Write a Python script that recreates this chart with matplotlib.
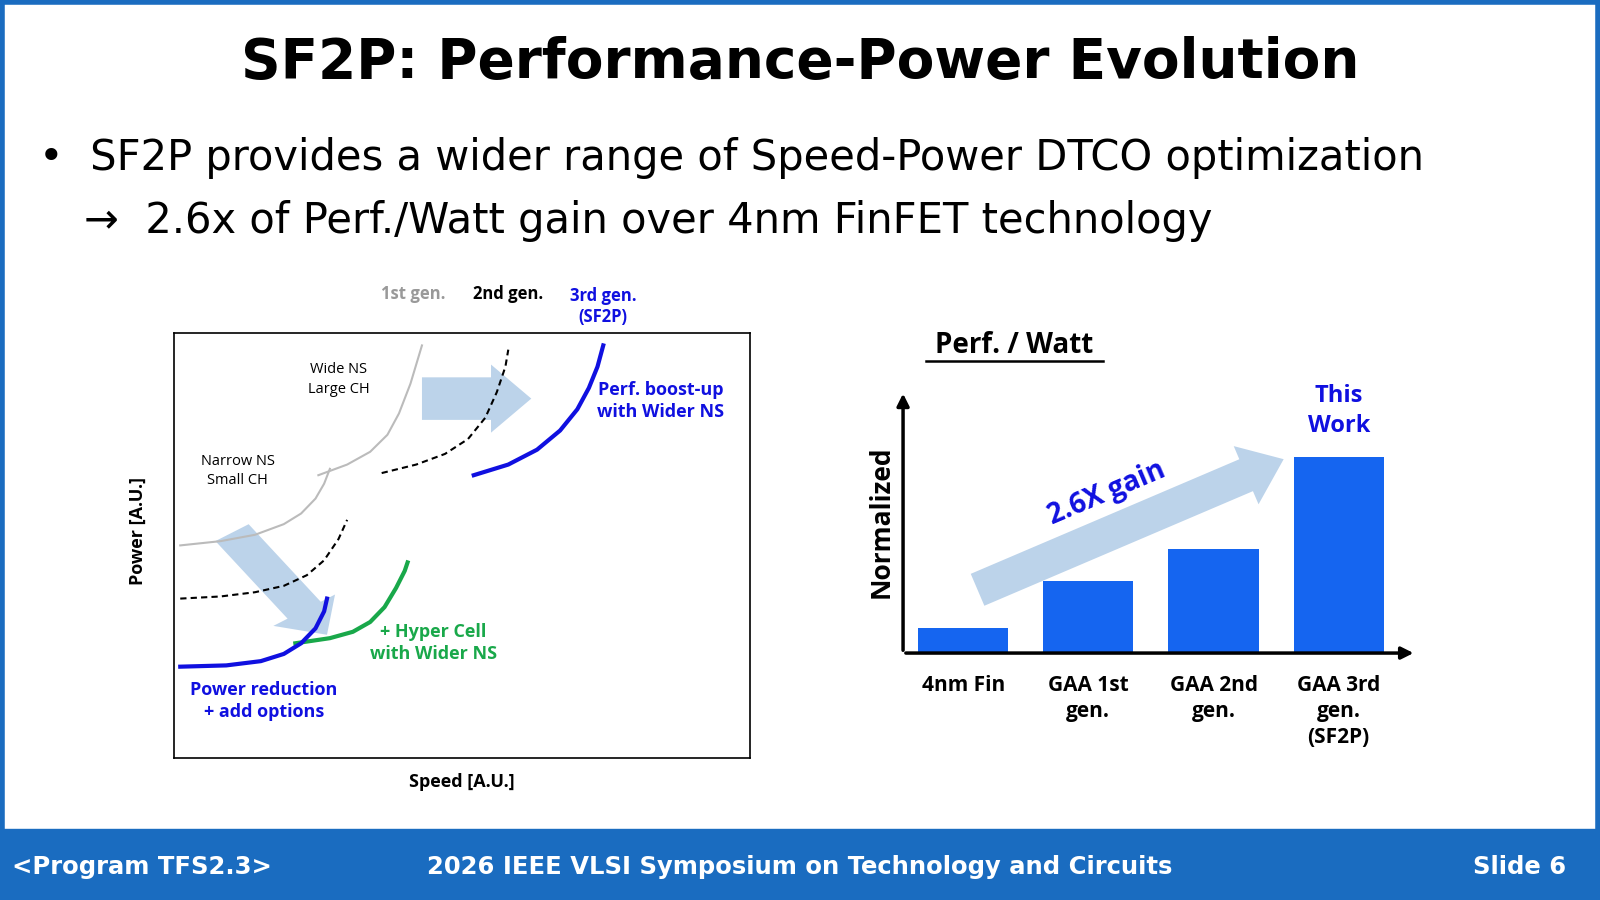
import numpy as np
import matplotlib
matplotlib.use("Agg")
import matplotlib.pyplot as plt
from matplotlib.patches import Rectangle, FancyArrow

W, H = 1568, 882
BLUE = "#1a6cc0"
LIGHT = "#bcd3ea"
MARK = "#1010e0"
GREEN = "#19a84a"

# bar chart data
bar_labels = ["4nm Fin", "GAA 1st\ngen.", "GAA 2nd\ngen.", "GAA 3rd\ngen.\n(SF2P)"]
bar_values = [1.0, 2.84, 4.08, 7.72]

# schematic curves (x, y in axes fraction of the left panel)
gray_small = ([0.01, 0.08, 0.14, 0.19, 0.22, 0.245, 0.26, 0.27],
              [0.50, 0.51, 0.525, 0.55, 0.575, 0.61, 0.645, 0.68])
gray_large = ([0.25, 0.30, 0.34, 0.37, 0.39, 0.41, 0.43],
              [0.665, 0.69, 0.72, 0.76, 0.81, 0.88, 0.97])
dash_2nd_low = ([0.01, 0.08, 0.14, 0.19, 0.23, 0.26, 0.285, 0.30],
                [0.375, 0.38, 0.39, 0.405, 0.43, 0.465, 0.515, 0.56])
dash_2nd_high = ([0.36, 0.42, 0.47, 0.51, 0.54, 0.56, 0.575, 0.58],
                 [0.67, 0.69, 0.715, 0.75, 0.80, 0.86, 0.92, 0.96])
blue_low = ([0.01, 0.09, 0.15, 0.19, 0.22, 0.245, 0.26, 0.265],
            [0.215, 0.218, 0.228, 0.245, 0.27, 0.305, 0.345, 0.375])
green_hyper = ([0.21, 0.27, 0.31, 0.34, 0.365, 0.385, 0.40, 0.405],
               [0.27, 0.282, 0.297, 0.32, 0.355, 0.40, 0.44, 0.46])
blue_high = ([0.52, 0.58, 0.63, 0.67, 0.70, 0.72, 0.735, 0.745],
             [0.665, 0.69, 0.725, 0.77, 0.82, 0.87, 0.92, 0.97])


def fx(px):
    return px / W


def fy(py):
    return 1 - py / H


fig = plt.figure(figsize=(16, 9), dpi=100)
bg = fig.add_axes([0, 0, 1, 1])
bg.set_xlim(0, W)
bg.set_ylim(H, 0)
bg.axis("off")

# frame and footer
bg.add_patch(Rectangle((2, 2), W - 4, H - 4, fill=False, ec=BLUE, lw=4))
bg.add_patch(Rectangle((0, 812), W, 70, color=BLUE))
bg.text(12, 850, "<Program TFS2.3>", color="white", fontsize=17.5, fontweight="bold", va="center")
bg.text(784, 850, "2026 IEEE VLSI Symposium on Technology and Circuits", color="white",
        fontsize=17.5, fontweight="bold", va="center", ha="center")
bg.text(1535, 850, "Slide 6", color="white", fontsize=17.5, fontweight="bold", va="center", ha="right")

bg.text(784, 62, "SF2P: Performance-Power Evolution", fontsize=39.5, fontweight="bold",
        ha="center", va="center")
bg.text(38, 155, "•  SF2P provides a wider range of Speed-Power DTCO optimization",
        fontsize=30, va="center")
bg.text(82, 217, "→  2.6x of Perf./Watt gain over 4nm FinFET technology", fontsize=30, va="center")

lab = dict(family="Open Sans", fontweight="bold")
bg.text(405, 288, "1st gen.", color="#999999", fontsize=12, ha="center", va="center", **lab)
bg.text(498, 288, "2nd gen.", color="black", fontsize=12, ha="center", va="center", **lab)
bg.text(591, 300, "3rd gen.\n(SF2P)", color=MARK, fontsize=12, ha="center", va="center",
        linespacing=1.2, **lab)
bg.text(453, 766, "Speed [A.U.]", fontsize=13, ha="center", va="center", **lab)
bg.text(135, 520, "Power [A.U.]", fontsize=13, ha="center", va="center", rotation=90, **lab)

# left schematic
ax = fig.add_axes([fx(171), fy(743), (735 - 171) / W, (743 - 326) / H])
ax.set_xlim(0, 1)
ax.set_ylim(0, 1)
ax.set_xticks([])
ax.set_yticks([])
for s in ax.spines.values():
    s.set_linewidth(1.2)

ax.add_patch(FancyArrow(0.43, 0.845, 0.19, 0, width=0.10, head_width=0.16, head_length=0.07,
                        color=LIGHT, lw=0, length_includes_head=True))
ax.add_patch(FancyArrow(0.10, 0.53, 0.165, -0.24, width=0.07, head_width=0.13, head_length=0.07,
                        color=LIGHT, lw=0, length_includes_head=True))
ax.plot(*gray_small, color="#bbbbbb", lw=1.5)
ax.plot(*gray_large, color="#bbbbbb", lw=1.5)
ax.plot(*dash_2nd_low, color="black", lw=1.5, ls=(0, (3, 2)))
ax.plot(*dash_2nd_high, color="black", lw=1.5, ls=(0, (3, 2)))
ax.plot(*green_hyper, color=GREEN, lw=3)
ax.plot(*blue_low, color=MARK, lw=3)
ax.plot(*blue_high, color=MARK, lw=3)

sm = dict(family="Open Sans", fontsize=10.5, ha="center", va="center", linespacing=1.4)
ax.text(0.285, 0.89, "Wide NS\nLarge CH", **sm)
ax.text(0.11, 0.675, "Narrow NS\nSmall CH", **sm)
ax.text(0.845, 0.84, "Perf. boost-up\nwith Wider NS", color=MARK, fontsize=13,
        fontweight="bold", family="Open Sans", ha="center", va="center", linespacing=1.3)
ax.text(0.45, 0.27, "+ Hyper Cell\nwith Wider NS", color=GREEN, fontsize=13,
        fontweight="bold", family="Open Sans", ha="center", va="center", linespacing=1.3)
ax.text(0.155, 0.135, "Power reduction\n+ add options", color=MARK, fontsize=13,
        fontweight="bold", family="Open Sans", ha="center", va="center", linespacing=1.3)

# right bar chart
bx = fig.add_axes([fx(885), fy(640), (1388 - 885) / W, (640 - 383) / H])
bx.patch.set_alpha(0)
x = np.arange(len(bar_values))
bx.bar(x, bar_values, width=0.72, color="#1565f0")
bx.set_xlim(-0.48, 3.62)
bx.set_ylim(0, 10.3)
for s in bx.spines.values():
    s.set_visible(False)
bx.set_yticks([])
bx.set_xticks(x)
bx.set_xticklabels(bar_labels, fontsize=15, fontweight="bold", family="Open Sans",
                   va="top", linespacing=1.3)
bx.tick_params(axis="x", length=0, pad=16)
bx.annotate("", xy=(3.62, 0), xytext=(-0.48, 0), annotation_clip=False,
            arrowprops=dict(arrowstyle="-|>", lw=2.5, color="black", mutation_scale=18))
bx.annotate("", xy=(-0.48, 10.3), xytext=(-0.48, 0), annotation_clip=False,
            arrowprops=dict(arrowstyle="-|>", lw=2.5, color="black", mutation_scale=18))
bx.text(3, 9.5, "This\nWork", color=MARK, fontsize=17, fontweight="bold", family="Open Sans",
        ha="center", va="center", linespacing=1.3)
bx.set_ylabel("Normalized", fontsize=19, fontweight="bold", family="Open Sans", labelpad=6)

bg.add_patch(FancyArrow(958, 578, 300, -128, width=34, head_width=62, head_length=40,
                        color=LIGHT, lw=0, length_includes_head=True))
bg.text(1085, 483, "2.6X gain", color=MARK, fontsize=20, fontweight="bold", family="Open Sans",
        ha="center", va="center", rotation=23)
bg.text(994, 339, "Perf. / Watt", fontsize=20, fontweight="bold", family="Open Sans",
        ha="center", va="center")
bg.plot([907, 1081], [354, 354], color="black", lw=1.8)

fig.savefig("out.png", dpi=100)
